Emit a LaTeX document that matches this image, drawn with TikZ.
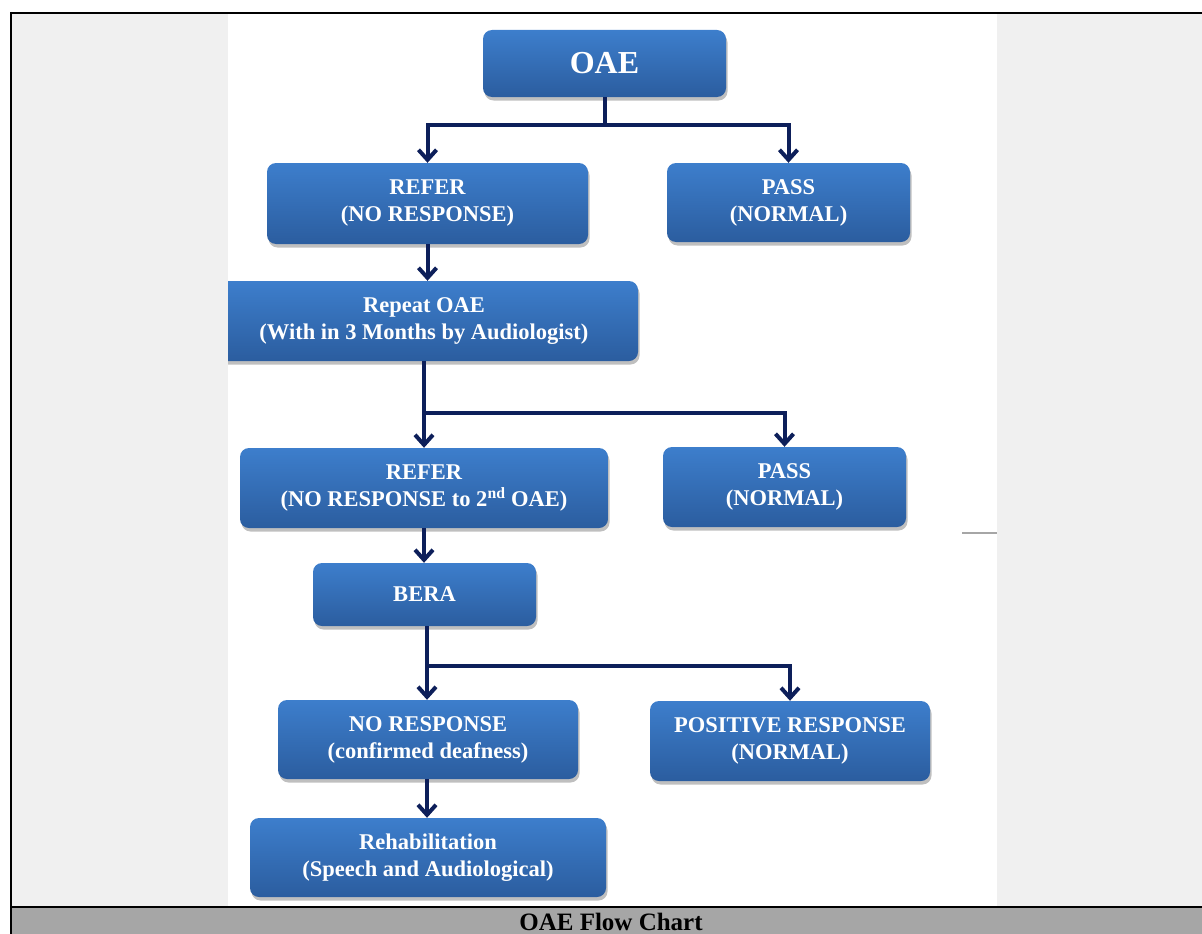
\documentclass[tikz,border=0pt]{standalone}
\usepackage{fontspec}
\setmainfont{Liberation Serif}
\usetikzlibrary{arrows.meta,shadows}

\definecolor{boxtop}{HTML}{3D7ECC}
\definecolor{boxbot}{HTML}{2B5D9F}
\definecolor{linknavy}{HTML}{0D1F5A}
\definecolor{panelgray}{HTML}{F0F0F0}
\definecolor{captiongray}{HTML}{A6A6A6}

\tikzset{
  stepbox/.style={rounded corners=9pt, top color=boxtop, bottom color=boxbot,
    text=white, font=\bfseries\fontsize{22.5}{27}\selectfont, align=center,
    inner sep=0pt, drop shadow={shadow xshift=1.5pt, shadow yshift=-3.5pt, opacity=0.5}},
  link/.style={linknavy, line width=4pt},
  arr/.style={link, -{Straight Barb[length=10pt,width=18pt]}},
}

\begin{document}
\begin{tikzpicture}[x=1pt,y=-1pt]
        \useasboundingbox (0,0) rectangle (1202,934);
        % boxes
        \node[stepbox, minimum width=243pt, minimum height=67pt, font=\bfseries\fontsize{32}{36}\selectfont] (oae) at (604.5,63.5) {OAE};
        \node[stepbox, minimum width=321pt, minimum height=81pt] (refer1) at (427.5,203.5) {REFER\\(NO RESPONSE)};
        \node[stepbox, minimum width=243pt, minimum height=79pt] (pass1) at (788.5,202.5) {PASS\\(NORMAL)};
        \node[stepbox, minimum width=428pt, minimum height=80pt] (repeat) at (424,321) {Repeat OAE\\(With in 3 Months by Audiologist)};
        \node[stepbox, minimum width=368pt, minimum height=80pt] (refer2) at (424,488) {REFER\\(NO RESPONSE to 2\textsuperscript{nd} OAE)};
        \node[stepbox, minimum width=243pt, minimum height=80pt] (pass2) at (784.5,487) {PASS\\(NORMAL)};
        \node[stepbox, minimum width=223pt, minimum height=63pt] (bera) at (424.5,594.5) {BERA};
        \node[stepbox, minimum width=300pt, minimum height=79pt] (nores) at (428,739.5) {NO RESPONSE\\(confirmed deafness)};
        \node[stepbox, minimum width=280pt, minimum height=80pt] (posres) at (790,741) {POSITIVE RESPONSE\\(NORMAL)};
        \node[stepbox, minimum width=356pt, minimum height=79pt] (rehab) at (428,857.5) {Rehabilitation\\(Speech and Audiological)};

        % connectors
        \coordinate (j1) at (604.5,125);
        \draw[link] (oae.south) -- (j1);
        \draw[arr] (j1) -| (refer1.north);
        \draw[arr] (j1) -| (pass1.north);
        \draw[arr] (refer1.south) -- (repeat.north -| refer1.south);
        \coordinate (j2) at (424,413);
        \draw[arr] (repeat.south) -- (refer2.north);
        \draw[arr] (j2) -| (pass2.north);
        \draw[arr] (refer2.south) -- (bera.north -| refer2.south);
        \coordinate (j3) at (427,666);
        \draw[link] (bera.south -| j3) -- (j3);
        \draw[arr] (j3) -- (nores.north -| j3);
        \draw[arr] (j3) -| (posres.north);
        \draw[arr] (nores.south -| j3) -- (rehab.north -| j3);

        % frame
        \fill[panelgray] (12,14) rectangle (228,907);
        \fill[panelgray] (997,14) rectangle (1202,907);
        \draw[gray!70, line width=1.5pt] (962,533) -- (997,533);
        \fill[captiongray] (12,908) rectangle (1202,934);
        \draw[line width=2.5pt] (11,13) -- (1202,13);
        \draw[line width=2.5pt] (11,12) -- (11,934);
        \draw[line width=2.5pt] (11,907) -- (1202,907);
        \node[font=\bfseries\fontsize{25}{28}\selectfont, anchor=base, inner sep=0pt] (caption) at (611,930) {OAE Flow Chart};
\end{tikzpicture}
\end{document}
